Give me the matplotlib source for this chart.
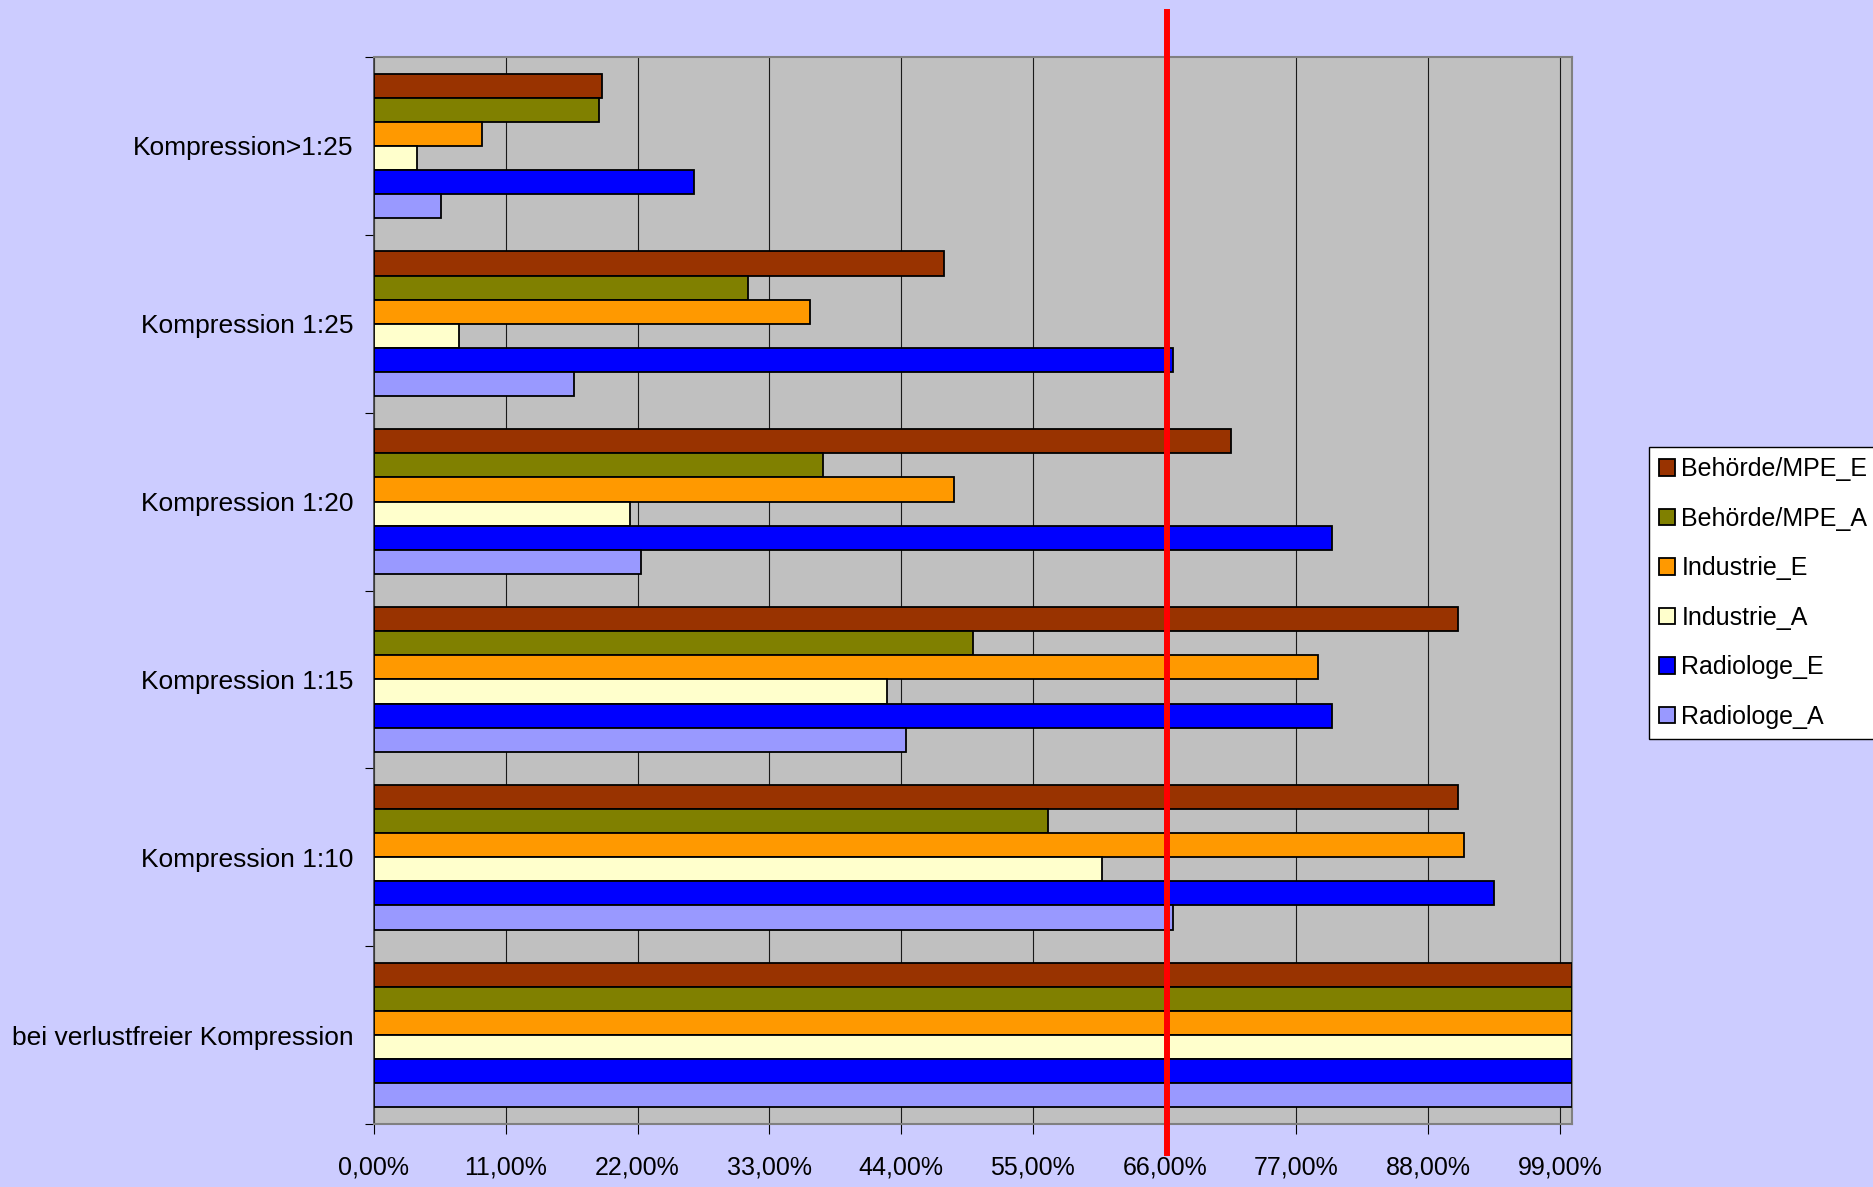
import numpy as np
import matplotlib.pyplot as plt
from matplotlib.ticker import FixedLocator

plt.rcParams['font.family'] = ['Liberation Sans', 'DejaVu Sans']

# --- data (shares) ---
categories = ['Kompression>1:25', 'Kompression 1:25', 'Kompression 1:20',
              'Kompression 1:15', 'Kompression 1:10', 'bei verlustfreier Kompression']

series_names = ['Behörde/MPE_E', 'Behörde/MPE_A', 'Industrie_E',
                'Industrie_A', 'Radiologe_E', 'Radiologe_A']

behoerde_e = [0.190, 0.476, 0.715, 0.905, 0.905, 1.0]
behoerde_a = [0.188, 0.312, 0.375, 0.500, 0.563, 1.0]
industrie_e = [0.090, 0.364, 0.484, 0.788, 0.910, 1.0]
industrie_a = [0.036, 0.071, 0.214, 0.428, 0.608, 1.0]
radiologe_e = [0.267, 0.667, 0.800, 0.800, 0.935, 1.0]
radiologe_a = [0.056, 0.167, 0.223, 0.444, 0.667, 1.0]

x_ticks = [0.0, 0.11, 0.22, 0.33, 0.44, 0.55, 0.66, 0.77, 0.88, 0.99]
x_tick_labels = ['0,00%', '11,00%', '22,00%', '33,00%', '44,00%',
                 '55,00%', '66,00%', '77,00%', '88,00%', '99,00%']

threshold = 0.662  # red marker line

colors = ['#993300', '#808000', '#FF9900', '#FFFFCC', '#0000FF', '#9999FF']

series = [behoerde_e, behoerde_a, industrie_e, industrie_a, radiologe_e, radiologe_a]

# --- figure ---
fig = plt.figure(figsize=(18.74, 11.87), dpi=100, facecolor='#CCCCFF')
ax = fig.add_axes([374/1874, 1-1124/1187, (1572-374)/1874, (1124-57)/1187])
ax.set_facecolor('#C0C0C0')

n = len(categories)
centers = np.arange(n)[::-1].astype(float)  # first category on top
h = 0.1356
for j, (vals, name, col) in enumerate(zip(series, series_names, colors)):
    # top bar of each group is the first series
    offs = (2.5 - j) * h
    ax.barh(centers + offs, vals, height=h, color=col, edgecolor='black',
            linewidth=1.3, label=name, zorder=3)

ax.set_xlim(0, 1.0)
ax.set_ylim(-0.5, n - 0.5)

# grid lines at the x ticks
ax.set_xticks(x_ticks)
ax.set_xticklabels(x_tick_labels, fontsize=18)
ax.xaxis.grid(True, color='#1a1a1a', linewidth=0.8, zorder=1)
ax.set_axisbelow(True)
ax.tick_params(axis='x', length=7, width=0.8, pad=16, color='black')

# y labels at group centers, tick marks between groups
ax.set_yticks(centers)
ax.set_yticklabels(categories, fontsize=19)
ax.yaxis.set_minor_locator(FixedLocator(np.arange(-0.5, n, 1.0)))
ax.tick_params(axis='y', which='major', length=0, pad=15)
ax.tick_params(axis='y', which='minor', length=6.5, width=0.8, color='black')

for side in ['top', 'right', 'bottom']:
    ax.spines[side].set_color('#808080')
    ax.spines[side].set_linewidth(1.5)
ax.spines['left'].set_color('#404040')
ax.spines['left'].set_linewidth(1.2)

# red reference line, runs past the plot area
ax.plot([threshold, threshold], [-0.027, 1.042], color='#FF0000', linewidth=4.3,
        transform=ax.get_xaxis_transform(), clip_on=False, zorder=5)

leg = fig.legend(loc='center left', bbox_to_anchor=(1649/1874, 1-593/1187),
                 fontsize=18, frameon=True, fancybox=False, edgecolor='black',
                 facecolor='white', handlelength=0.65, handleheight=0.65,
                 handletextpad=0.25, labelspacing=1.02, borderpad=0.4,
                 borderaxespad=0)
leg.get_frame().set_linewidth(1.0)
leg.get_frame().set_alpha(1)

plt.savefig('out.png', dpi=100, facecolor=fig.get_facecolor())
